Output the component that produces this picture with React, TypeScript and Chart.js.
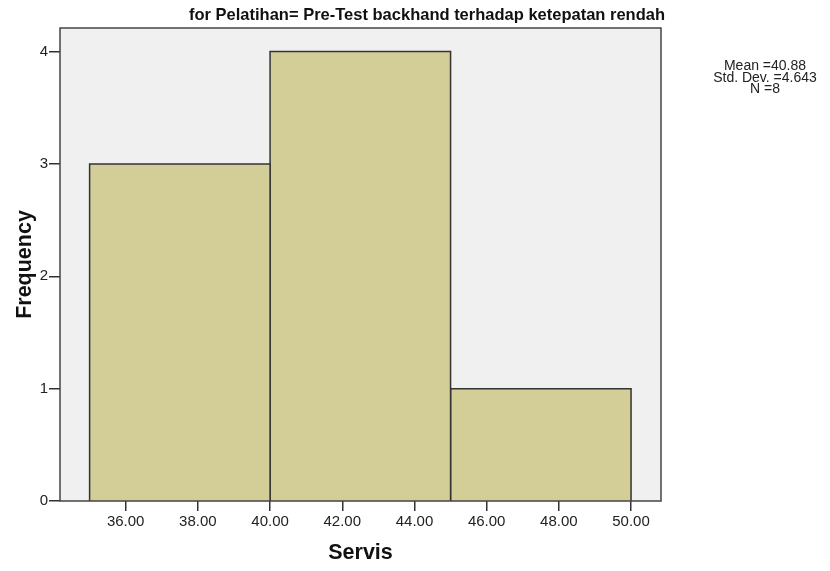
import React, { useEffect, useRef } from "react";
import { Chart, registerables } from "chart.js";

Chart.register(...registerables);

const binEdges = [35, 40, 45, 50];
const frequencies = [3, 4, 1];
const xTicks = [36, 38, 40, 42, 44, 46, 48, 50];
const yTicks = [0, 1, 2, 3, 4];
const titleText = "for Pelatihan= Pre-Test backhand terhadap ketepatan rendah";
const statsLines = ["Mean =40.88", "Std. Dev. =4.643", "N =8"];
const xTitle = "Servis";
const yTitle = "Frequency";

const FONT = "'Liberation Sans', Arial, sans-serif";

export default function App() {
  const ref = useRef<HTMLCanvasElement | null>(null);
  useEffect(() => {
    if (!ref.current) return;
    const datasets = frequencies.map((f, i) => ({
      data: [
        { x: binEdges[i], y: 0 },
        { x: binEdges[i], y: f },
        { x: binEdges[i + 1], y: f },
        { x: binEdges[i + 1], y: 0 },
      ],
      fill: "origin",
      backgroundColor: "#d3ce97",
      borderColor: "#333333",
      borderWidth: 1.5,
      pointRadius: 0,
      tension: 0,
    }));
    const decor = {
      id: "decor",
      beforeDraw(chart: any) {
        const { ctx, chartArea: a } = chart;
        ctx.save();
        ctx.fillStyle = "#ffffff";
        ctx.fillRect(0, 0, chart.width, chart.height);
        ctx.fillStyle = "#f0f0f0";
        ctx.fillRect(a.left, a.top, a.right - a.left, a.bottom - a.top);
        ctx.restore();
      },
      afterDraw(chart: any) {
        const { ctx, chartArea: a } = chart;
        ctx.save();
        ctx.strokeStyle = "#444444";
        ctx.lineWidth = 1.5;
        ctx.strokeRect(a.left, a.top, a.right - a.left, a.bottom - a.top);
        ctx.fillStyle = "#111111";
        ctx.font = `bold 16.5px ${FONT}`;
        ctx.textAlign = "center";
        ctx.textBaseline = "middle";
        ctx.fillText(titleText, 427, 15);
        ctx.font = `14px ${FONT}`;
        ctx.fillStyle = "#222222";
        statsLines.forEach((s, i) => ctx.fillText(s, 765, 66 + i * 11.7));
        ctx.restore();
      },
    };
    const chart = new Chart(ref.current, {
      type: "line",
      data: { datasets: datasets as any },
      plugins: [decor],
      options: {
        animation: false,
        responsive: false,
        maintainAspectRatio: false,
        layout: { padding: { top: 28, right: 169, left: 0, bottom: 0 } },
        plugins: { legend: { display: false }, tooltip: { enabled: false }, title: { display: false } },
        scales: {
          x: {
            type: "linear",
            min: 34.18,
            max: 50.83,
            afterBuildTicks: (s: any) => { s.ticks = xTicks.map((v) => ({ value: v })); },
            afterFit: (s: any) => { s.height = 70; },
            ticks: {
              callback: (v: any) => Number(v).toFixed(2),
              font: { family: FONT, size: 15 },
              color: "#222222",
              padding: 2,
              maxRotation: 0,
              autoSkip: false,
            },
            grid: { drawOnChartArea: false, drawTicks: true, tickLength: 10, color: "#333333", lineWidth: 1.5 },
            border: { display: false },
            title: { display: true, text: xTitle, font: { family: FONT, size: 21.5, weight: "bold" }, color: "#111111", padding: { top: 0, bottom: 5 } },
          },
          y: {
            type: "linear",
            min: 0,
            max: 4.21,
            afterBuildTicks: (s: any) => { s.ticks = yTicks.map((v) => ({ value: v })); },
            afterFit: (s: any) => { s.width = 60; },
            ticks: {
              font: { family: FONT, size: 15 },
              color: "#222222",
              padding: 1,
            },
            grid: { drawOnChartArea: false, drawTicks: true, tickLength: 11, color: "#333333", lineWidth: 1.5 },
            border: { display: false },
            title: { display: true, text: yTitle, font: { family: FONT, size: 21.5, weight: "bold" }, color: "#111111", padding: { top: 12, bottom: 0 } },
          },
        },
      },
    });
    return () => chart.destroy();
  }, []);
  return (
    <div style={{ position: "absolute", left: 0, top: 0, width: 830, height: 571 }}>
      <canvas ref={ref} width={830} height={571} style={{ width: 830, height: 571 }} />
    </div>
  );
}
